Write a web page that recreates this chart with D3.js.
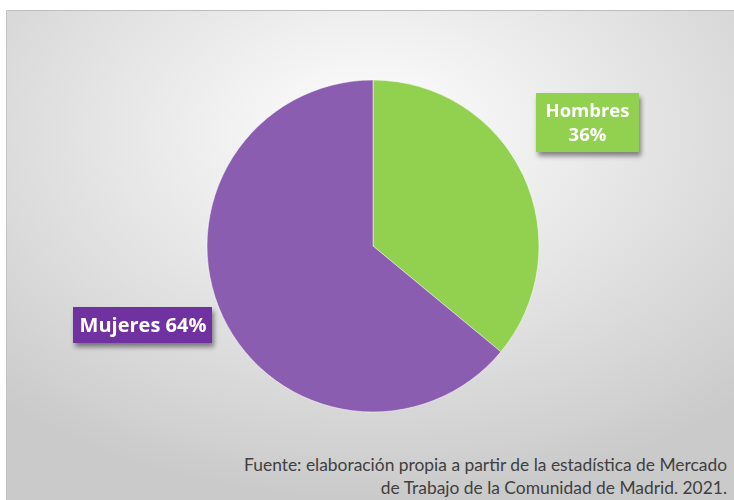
<!DOCTYPE html>
<html>
<head>
<meta charset="utf-8">
<script src="https://cdn.jsdelivr.net/npm/d3@7"></script>
<style>
  body { margin: 0; background: #fff; }
  svg { display: block; }
</style>
</head>
<body>
<svg id="chart"></svg>
<script>
const [w, h] = [734, 500];
const categories = ['Hombres', 'Mujeres'];
const values = [36, 64];
const colors = ['#92D050', '#8B5DB0'];
const labelColors = ['#92D050', '#7030A0'];
const sourceLines = [
    'Fuente: elaboración propia a partir de la estadística de Mercado',
    'de Trabajo de la Comunidad de Madrid. 2021.'
];

const data = categories.map((c, i) => ({ name: c, value: values[i] }));

const svg = d3.select('#chart')
    .attr('width', w)
    .attr('height', h);

const defs = svg.append('defs');
const grad = defs.append('radialGradient')
    .attr('id', 'bg')
    .attr('cx', '50%').attr('cy', '25%')
    .attr('r', '75%');
grad.append('stop').attr('offset', '0%').attr('stop-color', '#ffffff');
grad.append('stop').attr('offset', '100%').attr('stop-color', '#cacaca');

const shadow = defs.append('filter')
    .attr('id', 'shadow')
    .attr('x', '-20%').attr('y', '-20%')
    .attr('width', '150%').attr('height', '170%');
shadow.append('feDropShadow')
    .attr('dx', 2).attr('dy', 4)
    .attr('stdDeviation', 2.5)
    .attr('flood-color', '#000')
    .attr('flood-opacity', 0.45);

// chart area
svg.append('rect')
    .attr('x', 6).attr('y', 10)
    .attr('width', w - 6).attr('height', h - 10)
    .attr('fill', 'url(#bg)');
svg.append('line')
    .attr('x1', 6).attr('x2', w)
    .attr('y1', 10.5).attr('y2', 10.5)
    .attr('stroke', '#bdbdbd');
svg.append('line')
    .attr('x1', 6.5).attr('x2', 6.5)
    .attr('y1', 10).attr('y2', h)
    .attr('stroke', '#c4c4c4');

const [cx, cy, r] = [373, 246, 166];

const pie = d3.pie().sort(null).value(d => d.value);
const arc = d3.arc().innerRadius(0).outerRadius(r);
const arcs = pie(data);

const g = svg.append('g').attr('transform', `translate(${cx}, ${cy})`);
g.selectAll('path')
    .data(arcs)
    .enter()
    .append('path')
        .attr('d', arc)
        .attr('fill', (d, i) => colors[i])
        .attr('stroke', '#fff')
        .attr('stroke-width', 0.5);

// data labels
const font = "'Open Sans', 'DejaVu Sans', sans-serif";

// Hombres: two-line label at the right
const hb = svg.append('g').attr('filter', 'url(#shadow)');
hb.append('rect')
    .attr('x', 536).attr('y', 93)
    .attr('width', 103).attr('height', 59)
    .attr('fill', labelColors[0]);
hb.append('text')
    .attr('x', 587.5).attr('y', 117)
    .attr('text-anchor', 'middle')
    .attr('fill', '#fff')
    .style('font-family', font)
    .style('font-weight', 'bold')
    .style('font-size', '18.5px')
    .text(categories[0]);
hb.append('text')
    .attr('x', 587.5).attr('y', 141)
    .attr('text-anchor', 'middle')
    .attr('fill', '#fff')
    .style('font-family', font)
    .style('font-weight', 'bold')
    .style('font-size', '18.5px')
    .text(values[0] + '%');

// Mujeres: one-line label at the left
const mb = svg.append('g').attr('filter', 'url(#shadow)');
mb.append('rect')
    .attr('x', 73).attr('y', 307)
    .attr('width', 139).attr('height', 36)
    .attr('fill', labelColors[1]);
mb.append('text')
    .attr('x', 143).attr('y', 332)
    .attr('text-anchor', 'middle')
    .attr('fill', '#fff')
    .style('font-family', font)
    .style('font-weight', 'bold')
    .style('font-size', '20px')
    .text(categories[1] + ' ' + values[1] + '%');

// source note
svg.selectAll('text.source')
    .data(sourceLines)
    .enter()
    .append('text')
        .attr('class', 'source')
        .attr('x', 727)
        .attr('y', (d, i) => 471 + i * 23)
        .attr('text-anchor', 'end')
        .attr('fill', '#404040')
        .style('font-family', "Lato, 'DejaVu Sans', sans-serif")
        .style('font-size', '17.4px')
        .text(d => d);
</script>
</body>
</html>
